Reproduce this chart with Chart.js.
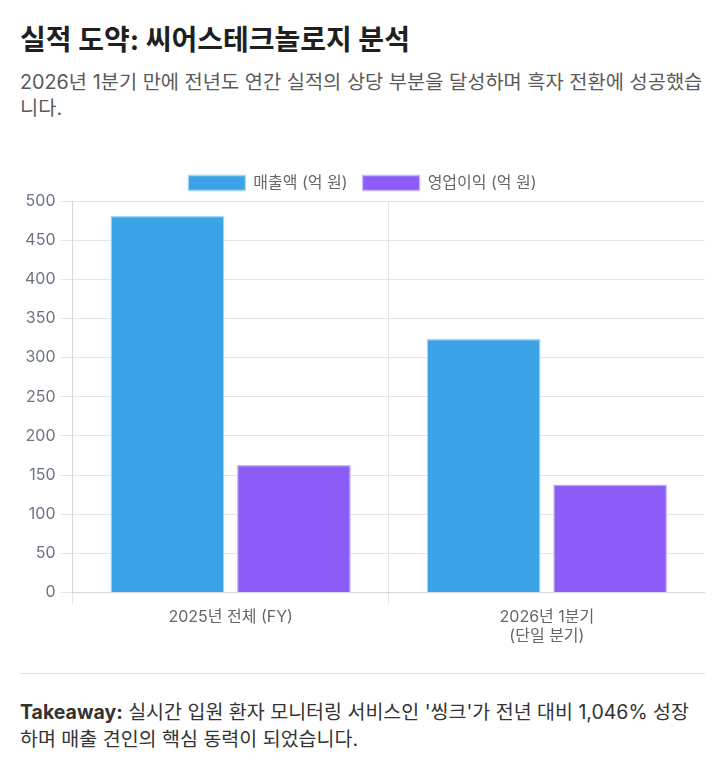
<!DOCTYPE html>
<html lang="ko">
<head>
<meta charset="utf-8">
<script src="https://cdn.jsdelivr.net/npm/chart.js@4"></script>
<style>
  body { margin: 0; background: #fff; font-family: Inter, "Noto Sans CJK KR", sans-serif; }
  .wrap { padding: 23px 17px 0 20px; }
  h1 { font-size: 28px; line-height: 34px; font-weight: 700; color: #1f1f1f; margin: 0; }
  .sub { font-size: 19.8px; color: #5a5a5a; line-height: 26px; margin: 12px 0 0 0; }
  .chart { position: relative; height: 490px; margin-top: 39px; }
  hr { border: 0; border-top: 1px solid #e2e2e2; margin: 23px 0 0 0; }
  .take { font-size: 19.5px; color: #333; line-height: 27px; margin: 25px 0 0 0; }
  .take b { color: #333; }
</style>
</head>
<body>
<div class="wrap">
  <h1>실적 도약: 씨어스테크놀로지 분석</h1>
  <p class="sub">2026년 1분기 만에 전년도 연간 실적의 상당 부분을 달성하며 흑자 전환에 성공했습니다.</p>
  <div class="chart"><canvas id="perf-chart"></canvas></div>
  <hr>
  <p class="take"><b>Takeaway:</b> 실시간 입원 환자 모니터링 서비스인 '씽크'가 전년 대비 1,046% 성장하며 매출 견인의 핵심 동력이 되었습니다.</p>
</div>
<script>
// Chart data
var categories = [["2025년 전체 (FY)"], ["2026년 1분기", "(단일 분기)"]];
var revenue = [481, 324];         // 매출액 (억 원)
var operatingProfit = [163, 138]; // 영업이익 (억 원)

var tickFont = { family: "Inter, 'Noto Sans CJK KR', sans-serif", size: 16 };

var ctx = document.getElementById('perf-chart').getContext('2d');
var perfChart = new Chart(ctx, {
  type: 'bar',
  data: {
    labels: categories,
    datasets: [{
      label: '매출액 (억 원)',
      data: revenue,
      backgroundColor: '#3ca3e6',
      borderColor: 'rgba(160,215,250,1)',
      borderWidth: 1.3
    }, {
      label: '영업이익 (억 원)',
      data: operatingProfit,
      backgroundColor: '#8b5cf6',
      borderColor: 'rgba(200,180,252,1)',
      borderWidth: 1.3
    }]
  },
  options: {
    responsive: true,
    maintainAspectRatio: false,
    animation: false,
    plugins: {
      legend: {
        position: 'top',
        labels: { color: '#666', font: tickFont, boxWidth: 57, boxHeight: 15, padding: 15 }
      },
      tooltip: { enabled: false }
    },
    scales: {
      x: {
        ticks: { color: '#666', font: tickFont, padding: 4 },
        grid: { color: '#e5e5e5', tickLength: 11 },
        border: { color: '#d6d6d6' }
      },
      y: {
        min: 0,
        max: 500,
        ticks: { stepSize: 50, color: '#6b7385', font: tickFont, padding: 5 },
        grid: { color: '#e5e5e5', tickLength: 12 },
        border: { color: '#d6d6d6' }
      }
    }
  }
});
</script>
</body>
</html>
